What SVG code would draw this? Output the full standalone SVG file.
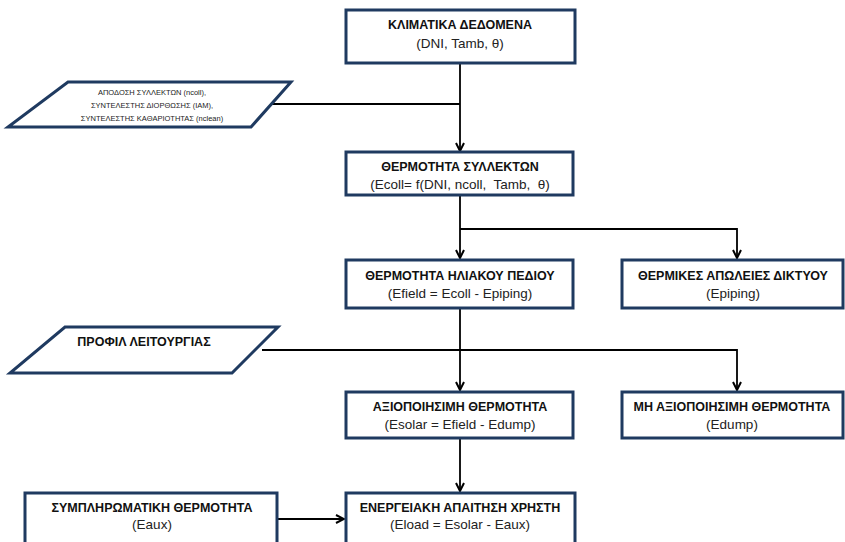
<svg xmlns="http://www.w3.org/2000/svg" width="845" height="542" viewBox="0 0 845 542">
  <defs>
    <marker id="arrow" viewBox="0 0 10 10" refX="9" refY="5" markerWidth="10" markerHeight="10" markerUnits="userSpaceOnUse" orient="auto">
      <path d="M1,1 L9,5 L1,9" fill="none" stroke="#000" stroke-width="2"/>
    </marker>
    <style>
      .box { fill: #fff; stroke: #1f3a60; stroke-width: 3; }
      .io { fill: #fff; stroke: #1f3a60; stroke-width: 3; stroke-linejoin: miter; }
      .t { font-family: "Liberation Sans", Arial, sans-serif; font-size: 12.5px; font-weight: bold; fill: #111; text-anchor: middle; }
      .s { font-family: "Liberation Sans", Arial, sans-serif; font-size: 13.5px; fill: #222; text-anchor: middle; white-space: pre; }
      .xs { font-family: "Liberation Sans", Arial, sans-serif; font-size: 7.5px; fill: #222; text-anchor: middle; }
      .line { fill: none; stroke: #000; stroke-width: 1.8; }
    </style>
  </defs>

  <rect width="845" height="542" fill="#fff"/>

  <!-- connectors -->
  <g id="connectors">
    <path class="line" d="M460,63 L460,151" marker-end="url(#arrow)"/>
    <path class="line" d="M271,104 L460,104"/>
    <path class="line" d="M460,196 L460,258" marker-end="url(#arrow)"/>
    <path class="line" d="M460,229 L737,229 L737,258" marker-end="url(#arrow)"/>
    <path class="line" d="M460,309 L460,390" marker-end="url(#arrow)"/>
    <path class="line" d="M262,350 L737,350 L737,390" marker-end="url(#arrow)"/>
    <path class="line" d="M460,439 L460,491" marker-end="url(#arrow)"/>
    <path class="line" d="M277,519 L344,519" marker-end="url(#arrow)"/>
  </g>

  <g id="climate-data">
    <rect class="box" x="346" y="10" width="229" height="53"/>
    <text class="t" x="460" y="29">ΚΛΙΜΑΤΙΚΑ ΔΕΔΟΜΕΝΑ</text>
    <text class="s" x="460" y="48">(DNI, Tamb, θ)</text>
  </g>

  <g id="collector-params">
    <polygon class="io" points="68,82 291,82 251,127 8,127"/>
    <text class="xs" x="152" y="95">ΑΠΟΔΟΣΗ ΣΥΛΛΕΚΤΩΝ (ncoll),</text>
    <text class="xs" x="152" y="108">ΣΥΝΤΕΛΕΣΤΗΣ ΔΙΟΡΘΩΣΗΣ (IAM),</text>
    <text class="xs" x="152" y="121">ΣΥΝΤΕΛΕΣΤΗΣ ΚΑΘΑΡΙΟΤΗΤΑΣ (nclean)</text>
  </g>

  <g id="collector-heat">
    <rect class="box" x="346" y="152" width="227" height="43"/>
    <text class="t" x="460" y="171">ΘΕΡΜΟΤΗΤΑ ΣΥΛΛΕΚΤΩΝ</text>
    <text class="s" x="460" y="189" xml:space="preserve">(Ecoll= f(DNI, ncoll,  Tamb,  θ)</text>
  </g>

  <g id="field-heat">
    <rect class="box" x="346" y="260" width="227" height="48"/>
    <text class="t" x="460" y="280">ΘΕΡΜΟΤΗΤΑ ΗΛΙΑΚΟΥ ΠΕΔΙΟΥ</text>
    <text class="s" x="460" y="298">(Efield = Ecoll - Epiping)</text>
  </g>

  <g id="piping-losses">
    <rect class="box" x="622" y="260" width="221" height="48"/>
    <text class="t" x="733" y="280">ΘΕΡΜΙΚΕΣ ΑΠΩΛΕΙΕΣ ΔΙΚΤΥΟΥ</text>
    <text class="s" x="733" y="298">(Epiping)</text>
  </g>

  <g id="operation-profile">
    <polygon class="io" points="65,327 278,327 232,373 10,373"/>
    <text class="t" x="144" y="346">ΠΡΟΦΙΛ ΛΕΙΤΟΥΡΓΙΑΣ</text>
  </g>

  <g id="usable-heat">
    <rect class="box" x="346" y="392" width="227" height="46"/>
    <text class="t" x="460" y="411">ΑΞΙΟΠΟΙΗΣΙΜΗ ΘΕΡΜΟΤΗΤΑ</text>
    <text class="s" x="460" y="429">(Esolar = Efield - Edump)</text>
  </g>

  <g id="dumped-heat">
    <rect class="box" x="622" y="392" width="221" height="46"/>
    <text class="t" x="732" y="411">ΜΗ ΑΞΙΟΠΟΙΗΣΙΜΗ ΘΕΡΜΟΤΗΤΑ</text>
    <text class="s" x="732" y="429">(Edump)</text>
  </g>

  <g id="auxiliary-heat">
    <rect class="box" x="25" y="493" width="252" height="60"/>
    <text class="t" x="152" y="512">ΣΥΜΠΛΗΡΩΜΑΤΙΚΗ ΘΕΡΜΟΤΗΤΑ</text>
    <text class="s" x="152" y="529">(Eaux)</text>
  </g>

  <g id="user-demand">
    <rect class="box" x="346" y="493" width="229" height="60"/>
    <text class="t" x="460" y="512">ΕΝΕΡΓΕΙΑΚΗ ΑΠΑΙΤΗΣΗ ΧΡΗΣΤΗ</text>
    <text class="s" x="460" y="529">(Eload = Esolar - Eaux)</text>
  </g>
</svg>
